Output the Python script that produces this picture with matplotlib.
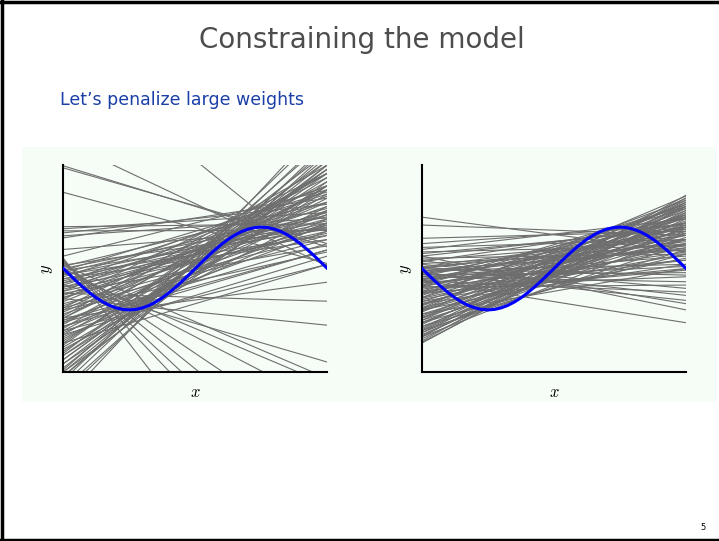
import matplotlib.pyplot as plt
from matplotlib.patches import Rectangle
from matplotlib.lines import Line2D

plt.rcParams['mathtext.fontset'] = 'cm'

# blue target curve, sampled at 41 even x positions between 0 and 1
curve_y = [0.0, -0.156, -0.309, -0.454, -0.588, -0.707, -0.809, -0.891, -0.951, -0.988,
           -1.0, -0.988, -0.951, -0.891, -0.809, -0.707, -0.588, -0.454, -0.309, -0.156,
           0.0, 0.156, 0.309, 0.454, 0.588, 0.707, 0.809, 0.891, 0.951, 0.988,
           1.0, 0.988, 0.951, 0.891, 0.809, 0.707, 0.588, 0.454, 0.309, 0.156, 0.0]
curve_x = [i / 40 for i in range(41)]

# left panel: each gray line as (y at x=0, y at x=1)
left_start = [2.48, 2.43, 3.07, 1.84, 5.19,
              1.01, 0.96, 0.91, 0.86, 0.79, 0.74, 0.46, 0.30,
              -1.19, -0.60, -0.73, -0.39, 0.08, 0.20, 0.10, 0.00, 0.15, -0.10, 0.25, 0.18, -1.50, -1.30,
              -2.40, -2.60, -2.80, -3.00, -2.30, -2.50, -2.20, -2.70, -3.20, -2.90, -2.45, -2.10,
              -2.00, -1.90, -1.80, -1.70, -1.60, -1.55, -1.50, -1.40, -1.35, -1.30, -1.25, -1.20,
              -1.10, -1.05, -1.00, -0.95, -0.90, -0.85, -0.80, -0.70, -0.65, -0.60, -0.55, -0.50,
              -0.45, -0.40, -0.35, -0.30, -0.25, -0.20, -0.15, -0.10, -0.05, 0.00, 0.05, 0.08,
              -2.20, -2.10, -2.30, -1.95, -1.60, -1.80, -1.40,
              -1.85, -1.45, -1.15, -0.75, -0.35, -0.05, -1.65, -1.25, -0.95, -0.55,
              -0.25, -2.50, -2.60, -1.00, -0.70, -0.45, -0.15, -1.75, -2.05, -1.20]
left_end = [0.52, 0.60, 0.06, 0.12, 0.04,
            1.08, 1.35, 0.92, 1.55, 1.22, 1.70, 0.96, 1.90,
            -0.33, -0.79, -1.37, -2.26, -2.65, -6.50, -4.20, -3.30, -5.00, -2.80, -8.00, -5.80, 0.10, 0.45,
            2.60, 2.90, 3.20, 3.00, 2.50, 2.70, 2.40, 3.40, 3.60, 2.80, 3.10, 2.30,
            2.20, 1.80, 2.40, 1.50, 2.00, 1.20, 1.70, 0.90, 2.10, 1.40, 0.60, 1.90,
            1.10, 1.60, 0.40, 2.20, 1.30, 0.80, 1.75, 1.00, 1.50, 0.55, 2.00, 1.20,
            0.85, 1.60, 1.05, 1.35, 0.70, 1.80, 1.15, 1.45, 0.95, 1.25, 1.60, 1.00,
            2.40, 1.90, 2.00, 1.40, 0.30, 0.10, 0.45,
            2.60, 2.30, 2.50, 2.30, 2.00, 1.85, 1.10, 1.05, 0.70, 0.90,
            1.10, 2.10, 2.50, 1.90, 1.40, 1.30, 0.80, 2.00, 2.80, 2.30]

# right panel (penalized weights)
right_start = [1.24, 1.05, 0.73, 0.60, 0.51, 0.46, 0.40, 0.36, 0.16, 0.12, 0.04,
               -0.29, 0.30, 0.20, -0.10, 0.05, -0.30, 0.10, -0.45, -0.20, 0.00, -0.60, -0.05, -0.35,
               -1.80, -1.75, -1.70, -1.65, -1.60, -1.55, -1.50, -1.45, -1.40, -1.35, -1.30, -1.25,
               -1.20, -1.15, -1.10, -1.05, -1.00, -0.95, -0.90, -0.85, -0.80, -0.75, -0.70, -0.65,
               -0.60, -0.55, -0.50, -0.45, -0.40, -0.35, -0.30, -0.25, -0.20, -0.15, -0.10, -0.05,
               0.00, -1.30, -1.00, -0.85, -1.50, -1.20, -0.70, -0.40, -1.65, -0.95, -0.55, -0.25,
               -1.10, -0.15,
               -1.78, -1.62, -1.48, -1.32, -1.18, -1.02, -0.88, -0.72, -0.58, -0.42, -0.28, -0.12,
               0.02, 0.20, 0.25, -1.40, -1.25, -0.80, -0.60, -0.45, -1.55, -0.98, -0.35, 0.30, -0.20]
right_end = [0.40, 0.80, 0.90, 1.05, 0.70, 1.20, 0.55, 0.95, 1.10, 0.45, 0.85,
             -1.31, -1.00, -0.85, -0.77, -0.65, -0.57, -0.48, -0.40, -0.32, -0.16, -0.04, 0.10, 0.20,
             1.60, 1.77, 1.40, 1.70, 1.20, 1.55, 1.30, 1.65, 1.00, 1.45, 1.10, 1.60,
             0.90, 1.35, 0.75, 1.50, 1.15, 0.60, 1.40, 0.95, 1.25, 0.50, 1.05, 1.55,
             0.80, 1.30, 0.40, 1.00, 0.70, 1.20, 0.55, 0.90, 0.30, 1.10, 0.65, 0.45,
             0.80, 0.35, 0.25, 0.10, 0.60, 1.70, 1.65, 1.45, 0.85, 1.75, 0.20, 0.05,
             0.00, -0.10,
             1.50, 1.35, 1.50, 1.25, 1.05, 0.85, 1.30, 0.70, 1.10, 0.60, 1.00, 0.50,
             0.60, 0.70, 0.35, 0.45, 0.70, 0.35, 0.00, -0.20, 1.00, 1.60, 1.50, 1.00, 1.25]

fig = plt.figure(figsize=(7.19, 5.41), dpi=100)
W, H = 719, 541

# slide frame and light panel behind the plots
fig.add_artist(Line2D([1.5 / W, 1.5 / W], [0, 1], color='black', lw=2.5))
fig.add_artist(Line2D([0, 1], [1 - 1.5 / H, 1 - 1.5 / H], color='black', lw=2.5))
fig.add_artist(Line2D([0, 1], [1.5 / H, 1.5 / H], color='black', lw=2.5))
fig.add_artist(Rectangle((22 / W, 1 - 402 / H), (716 - 22) / W, (402 - 147) / H,
                         facecolor='#f5fdf6', edgecolor='none', zorder=0))

fig.text(362 / W, 1 - 40 / H, 'Constraining the model', ha='center', va='center',
         fontsize=20, color='#4d4d4d')
fig.text(60 / W, 1 - 100 / H, 'Let\u2019s penalize large weights', ha='left', va='center',
         fontsize=12.5, color='#1a3fa6')
fig.text(703 / W, 1 - 527 / H, '5', ha='center', va='center', fontsize=6, color='black')

panels = [(63.3, left_start, left_end), (422, right_start, right_end)]
for x0, starts, ends in panels:
    ax = fig.add_axes([x0 / W, 1 - 372 / H, 264 / W, (372 - 165) / H])
    ax.set_facecolor('#f5fdf6')
    for a, b in zip(starts, ends):
        ax.plot([0, 1], [a, b], color='#6e6e6e', lw=0.8)
    ax.plot(curve_x, curve_y, color='#0000ff', lw=2.2, zorder=5)
    ax.set_xlim(0, 1)
    ax.set_ylim(-2.5, 2.5)
    ax.set_xticks([])
    ax.set_yticks([])
    ax.spines['top'].set_visible(False)
    ax.spines['right'].set_visible(False)
    ax.spines['left'].set_linewidth(1.5)
    ax.spines['bottom'].set_linewidth(1.5)
    ax.set_xlabel('$x$', fontsize=12, labelpad=8)
    ax.set_ylabel('$y$', fontsize=12, labelpad=6)

fig.savefig('out.png', dpi=100)
